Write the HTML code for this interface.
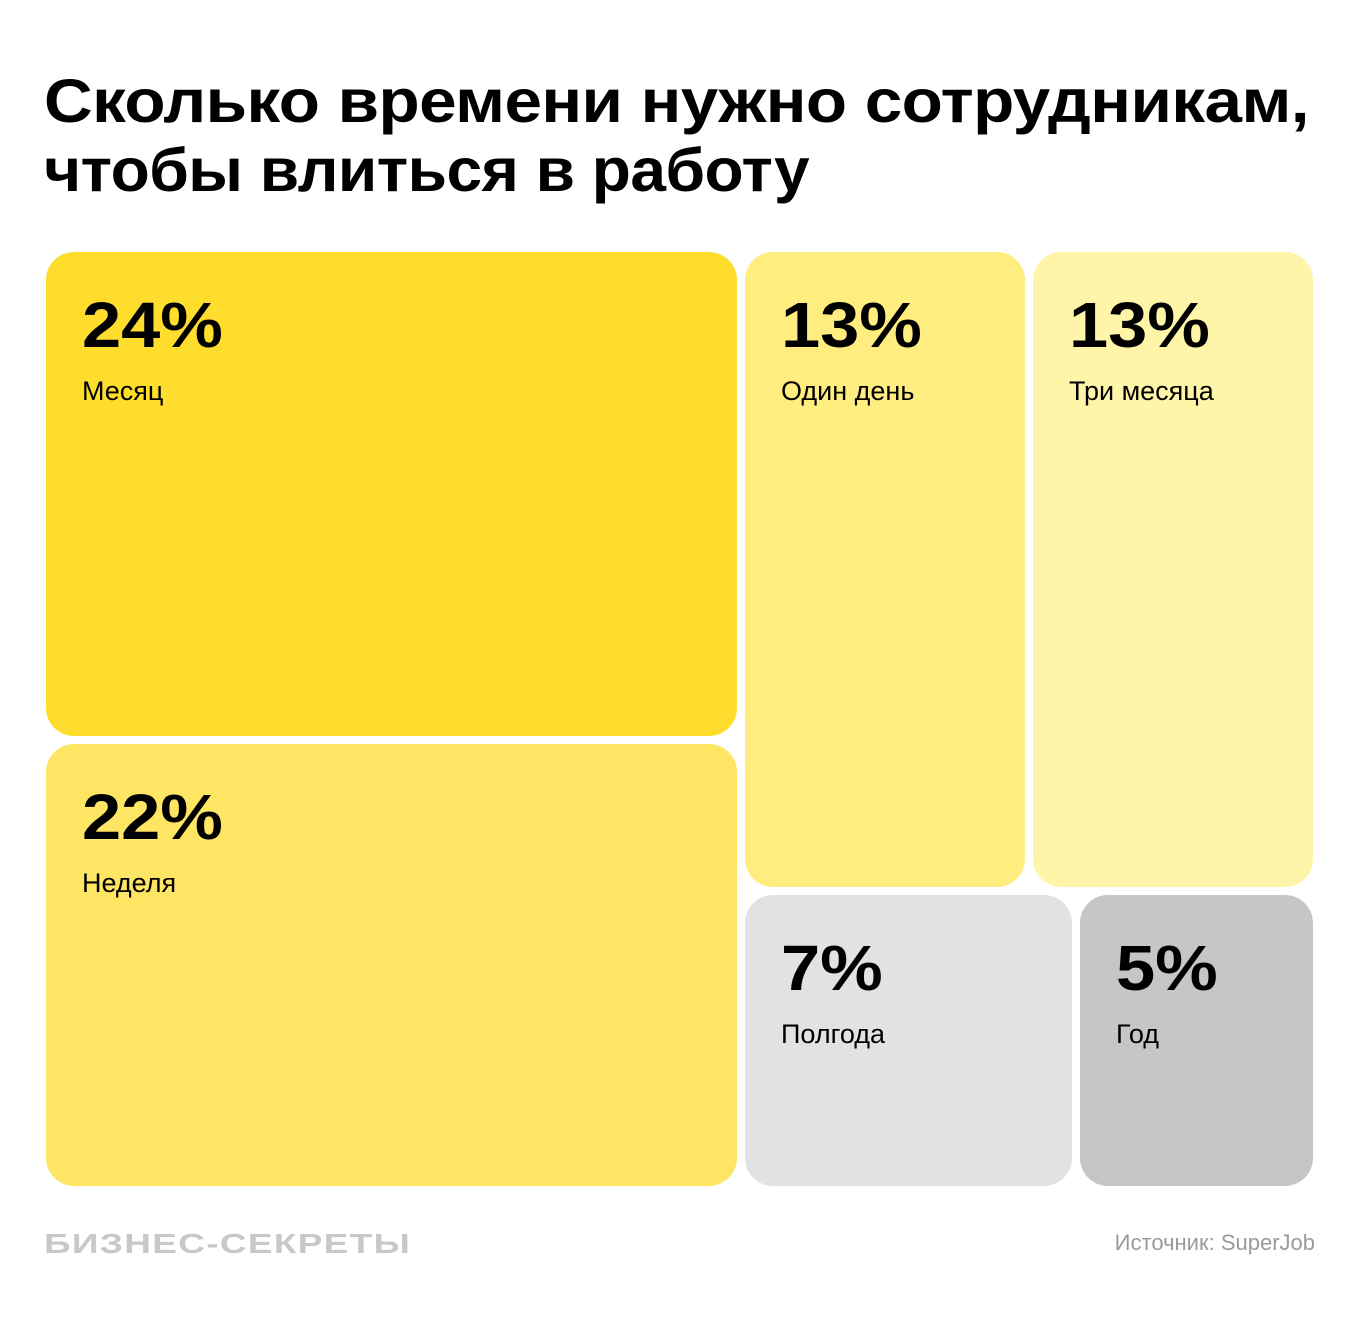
<!DOCTYPE html>
<html><head><meta charset="utf-8"><style>
body{margin:0;width:1360px;height:1321px;background:#fff;position:relative;font-family:"Liberation Sans","DejaVu Sans",sans-serif;overflow:hidden}
.t{position:absolute;left:44px;font-size:61px;font-weight:bold;line-height:66px;color:#000;letter-spacing:-0.5px;transform-origin:left;white-space:nowrap}
.b{position:absolute;border-radius:28px}
.p{position:absolute;left:36px;top:38px;font-size:64px;font-weight:bold;letter-spacing:0px;line-height:70px;transform:scaleX(1.1);transform-origin:left}
.l{position:absolute;left:36px;top:124px;font-size:27px;line-height:30px}
.f{position:absolute;top:1228px;font-size:28px;font-weight:bold;color:#c8c8c8;letter-spacing:1px;transform:scaleX(1.32);transform-origin:left;white-space:nowrap}
.s{position:absolute;right:45px;top:1230px;font-size:22px;color:#9a9a9a}
</style></head><body>
<div class="t" style="top:68px;transform:scaleX(1.105)">Сколько времени нужно сотрудникам,</div>
<div class="t" style="top:137px;transform:scaleX(1.05)">чтобы влиться в работу</div>
<div class="b" style="left:46px;top:252px;width:691px;height:484px;background:#FFDD2D"><div class="p">24%</div><div class="l">Месяц</div></div>
<div class="b" style="left:46px;top:744px;width:691px;height:442px;background:#FEE564"><div class="p">22%</div><div class="l">Неделя</div></div>
<div class="b" style="left:745px;top:252px;width:280px;height:635px;background:#FFED80"><div class="p">13%</div><div class="l">Один день</div></div>
<div class="b" style="left:1033px;top:252px;width:280px;height:635px;background:#FFF5A8"><div class="p">13%</div><div class="l">Три месяца</div></div>
<div class="b" style="left:745px;top:895px;width:327px;height:291px;background:#E2E2E2"><div class="p">7%</div><div class="l">Полгода</div></div>
<div class="b" style="left:1080px;top:895px;width:233px;height:291px;background:#C6C6C6"><div class="p">5%</div><div class="l">Год</div></div>
<div class="f" style="left:44px">БИЗНЕС-СЕКРЕТЫ</div>
<div class="s">Источник: SuperJob</div>
</body></html>
